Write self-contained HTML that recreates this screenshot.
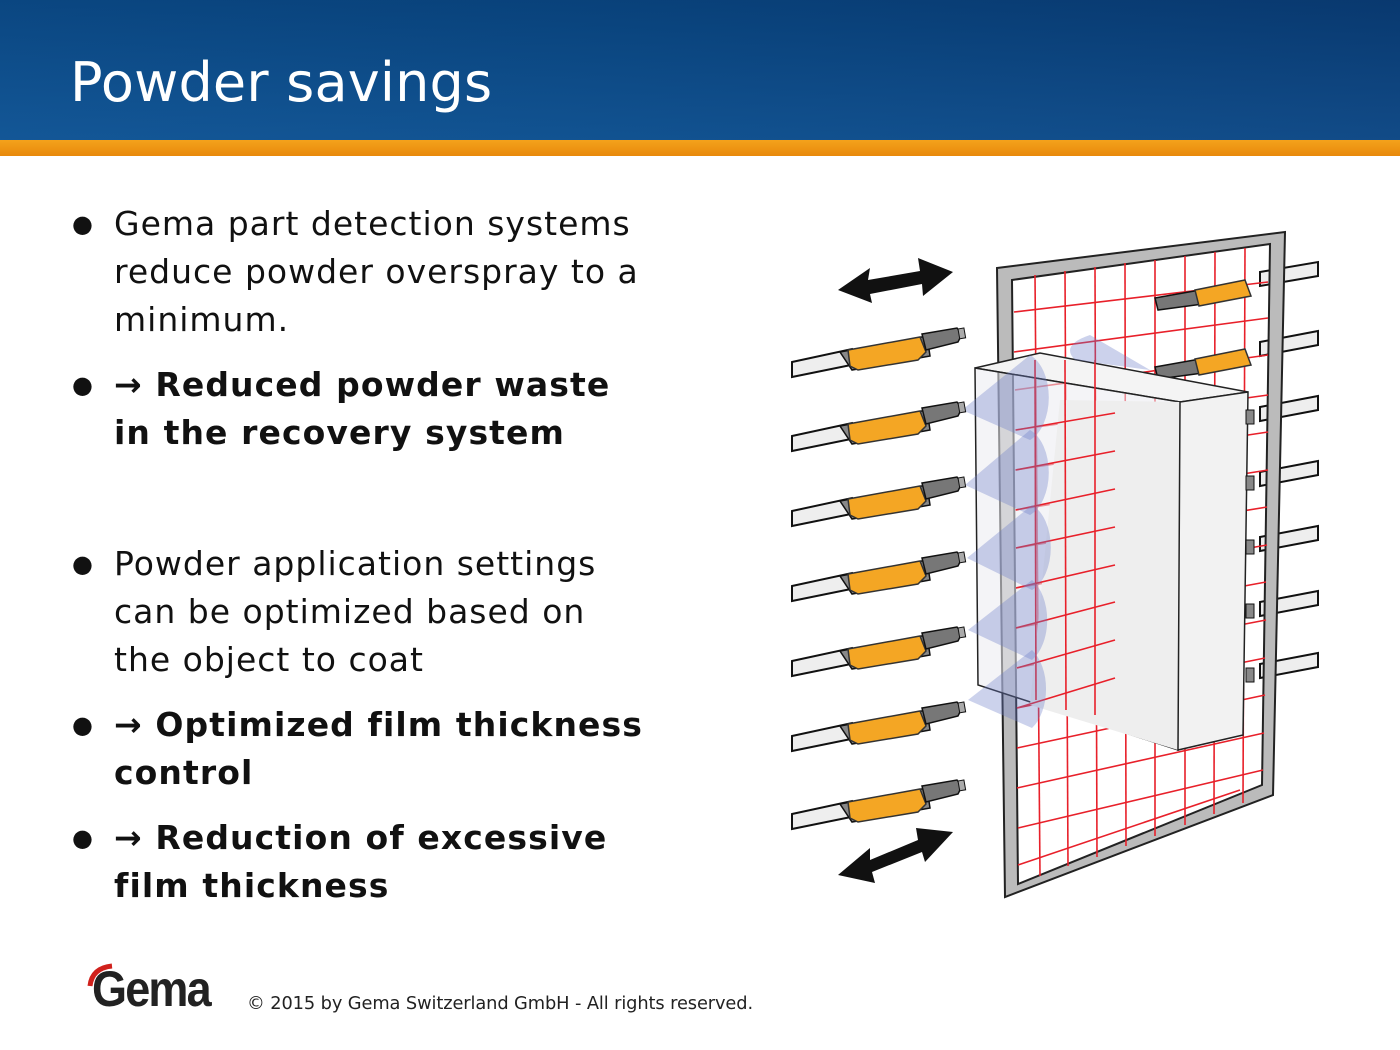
<!DOCTYPE html>
<html><head><meta charset="utf-8"><style>
body{margin:0;width:1400px;height:1050px;overflow:hidden;background:#fff;font-family:"DejaVu Sans","Liberation Sans",sans-serif;position:relative}
.hdr{position:absolute;left:0;top:0;width:1400px;height:140px;background:linear-gradient(90deg,#0c4f8d 0%,#0a4a86 40%,#0a3f78 100%)}
.hdr2{position:absolute;left:0;top:0;width:1400px;height:140px;background:linear-gradient(180deg,rgba(0,20,60,0.15),rgba(40,110,180,0.25))}
.or{position:absolute;left:0;top:140px;width:1400px;height:16px;background:linear-gradient(180deg,#f4a21c,#e8890c)}
.title{position:absolute;left:70px;top:50px;color:#fff;font-size:54px;line-height:66px;letter-spacing:0.2px}
.b{position:absolute;left:72px;font-size:33px;line-height:48px;color:#111;letter-spacing:1px}
.b .dot{position:absolute;left:0;top:0;font-size:24px}
.b .t{margin-left:42px;display:block;white-space:nowrap}
.bold{font-weight:bold;letter-spacing:1.1px}
.copy{position:absolute;left:247px;top:993px;font-size:17.8px;color:#222;letter-spacing:-0.1px}
.logo{position:absolute;left:92px;top:960px;font-family:"Liberation Sans",sans-serif;font-size:50px;font-weight:bold;color:#222;letter-spacing:-2px;transform:scaleX(0.9);transform-origin:left}
</style></head><body>
<div class="hdr"></div><div class="hdr2"></div><div class="or"></div>
<div class="title">Powder savings</div>

<div class="b" style="top:200px"><span class="dot">●</span><span class="t">Gema part detection systems<br>reduce powder overspray to a<br>minimum.</span></div>
<div class="b bold" style="top:361px"><span class="dot">●</span><span class="t">→ Reduced powder waste<br>in the recovery system</span></div>
<div class="b" style="top:540px"><span class="dot">●</span><span class="t">Powder application settings<br>can be optimized based on<br>the object to coat</span></div>
<div class="b bold" style="top:701px"><span class="dot">●</span><span class="t">→ Optimized film thickness<br>control</span></div>
<div class="b bold" style="top:814px"><span class="dot">●</span><span class="t">→ Reduction of excessive<br>film thickness</span></div>

<div class="logo">Gema</div>
<svg style="position:absolute;left:86px;top:962px" width="30" height="26"><path d="M4 24 Q6 6 26 4" stroke="#d0211c" stroke-width="5" fill="none"/></svg>
<div class="copy">© 2015 by Gema Switzerland GmbH - All rights reserved.</div>

<svg style="position:absolute;left:0;top:0" width="1400" height="1050">
<defs>
<g id="gun">
 <path d="M0 24 L60 11 L64 26 L0 39 Z" fill="#eee" stroke="#111" stroke-width="2"/>
 <path d="M48 14 L135 -2 L138 18 L60 32 Z" fill="#888" stroke="#111" stroke-width="1.5"/>
 <path d="M56 12 L128 -1 L134 14 L126 22 L66 32 L58 28 Z" fill="#f4a624" stroke="#333" stroke-width="1.5"/>
 <path d="M130 -4 L165 -10 L170 -4 L166 4 L134 12Z" fill="#777" stroke="#111" stroke-width="1.5"/>
 <rect x="166" y="-9" width="6" height="10" fill="#aaa" stroke="#111" transform="rotate(-10 166 -9)"/>
</g>
<g id="rgun">
 <path d="M0 8 L45 0 L48 14 L3 20Z" fill="#777" stroke="#111" stroke-width="1.5"/>
 <path d="M40 0 L90 -10 L96 6 L44 16Z" fill="#f4a624" stroke="#333" stroke-width="1.5"/>
</g>
</defs>
<g stroke="#111" stroke-width="2" fill="#eee">
<path d="M1260 272 L1318 262 L1318 276 L1260 286Z"/>
<path d="M1260 342 L1318 331 L1318 345 L1260 356Z"/>
<path d="M1260 407 L1318 396 L1318 410 L1260 421Z"/>
<path d="M1260 472 L1318 461 L1318 475 L1260 486Z"/>
<path d="M1260 537 L1318 526 L1318 540 L1260 551Z"/>
<path d="M1260 602 L1318 591 L1318 605 L1260 616Z"/>
<path d="M1260 664 L1318 653 L1318 667 L1260 678Z"/>
</g>
<path d="M997 268 L1285 232 L1273 795 L1005 897Z M1012 280 L1270 244 L1262 785 L1018 884Z" fill="#bbb" fill-rule="evenodd" stroke="#222" stroke-width="2"/>
<g stroke="#e8202a" stroke-width="1.6">
<line x1="1035" y1="275" x2="1040" y2="876"/><line x1="1065" y1="271" x2="1068" y2="866"/><line x1="1095" y1="267" x2="1097" y2="857"/><line x1="1125" y1="263" x2="1126" y2="846"/><line x1="1155" y1="260" x2="1155" y2="836"/><line x1="1185" y1="256" x2="1185" y2="825"/><line x1="1215" y1="252" x2="1214" y2="814"/><line x1="1245" y1="248" x2="1243" y2="803"/>
<line x1="1014" y1="312" x2="1268" y2="282"/><line x1="1014" y1="352" x2="1268" y2="318"/><line x1="1015" y1="390" x2="1268" y2="355"/><line x1="1015" y1="430" x2="1268" y2="395"/><line x1="1015" y1="470" x2="1268" y2="432"/><line x1="1015" y1="510" x2="1268" y2="470"/><line x1="1016" y1="548" x2="1267" y2="507"/><line x1="1016" y1="588" x2="1267" y2="545"/><line x1="1016" y1="628" x2="1266" y2="582"/><line x1="1016" y1="668" x2="1266" y2="620"/><line x1="1017" y1="708" x2="1265" y2="658"/><line x1="1017" y1="748" x2="1265" y2="695"/><line x1="1017" y1="788" x2="1264" y2="733"/><line x1="1018" y1="828" x2="1263" y2="770"/><line x1="1018" y1="865" x2="1240" y2="790"/>
</g>
<use href="#rgun" x="1155" y="290"/><use href="#rgun" x="1155" y="359"/>
<path d="M975 368 L1040 353 L1248 392 L1180 402Z" fill="#f4f4f4" stroke="#222" stroke-width="1.5"/>
<path d="M975 368 L1180 402 L1178 750 L978 685Z" fill="rgba(235,235,240,0.55)" stroke="#222" stroke-width="1.5"/>
<path d="M1060 400 L1180 402 L1178 750 L1030 705Z" fill="#eee"/>
<path d="M1180 402 L1248 392 L1243 735 L1178 750Z" fill="#f2f2f2" stroke="#222" stroke-width="1.5"/>
<g stroke="#e8202a" stroke-width="1.6">
<line x1="1016" y1="430" x2="1115" y2="413"/><line x1="1016" y1="470" x2="1115" y2="451"/><line x1="1016" y1="510" x2="1115" y2="489"/><line x1="1016" y1="548" x2="1115" y2="527"/><line x1="1016" y1="588" x2="1115" y2="565"/><line x1="1016" y1="628" x2="1115" y2="602"/><line x1="1017" y1="668" x2="1115" y2="640"/><line x1="1017" y1="708" x2="1115" y2="678"/>
<line x1="1035" y1="360" x2="1036" y2="700"/><line x1="1065" y1="360" x2="1066" y2="710"/><line x1="1095" y1="360" x2="1095" y2="715"/>
</g>
<g fill="rgba(110,125,200,0.35)">
<path d="M962 410 L1030 355 A28 45 0 0 1 1030 440Z"/>
<path d="M965 485 L1030 430 A28 45 0 0 1 1030 515Z"/>
<path d="M967 558 L1032 505 A28 45 0 0 1 1032 590Z"/>
<path d="M968 630 L1032 580 A28 45 0 0 1 1032 660Z"/>
<path d="M968 700 L1032 650 A28 45 0 0 1 1032 728Z"/>
<path d="M1150 370 L1090 335 Q1060 345 1075 360Z"/>
</g>
<g fill="#888" stroke="#111"><rect x="1246" y="410" width="8" height="14"/><rect x="1246" y="476" width="8" height="14"/><rect x="1246" y="540" width="8" height="14"/><rect x="1246" y="604" width="8" height="14"/><rect x="1246" y="668" width="8" height="14"/></g>
<use href="#gun" x="792" y="338"/><use href="#gun" x="792" y="412"/><use href="#gun" x="792" y="487"/><use href="#gun" x="792" y="562"/><use href="#gun" x="792" y="637"/><use href="#gun" x="792" y="712"/><use href="#gun" x="792" y="790"/>
<path d="M838 290 L870 268 L868 280 L920 271 L918 258 L953 272 L923 296 L922 284 L870 294 L872 303Z" fill="#111"/>
<path d="M838 875 L870 848 L870 860 L918 840 L916 828 L953 832 L925 862 L922 852 L872 872 L875 883Z" fill="#111"/>
</svg>
</body></html>
